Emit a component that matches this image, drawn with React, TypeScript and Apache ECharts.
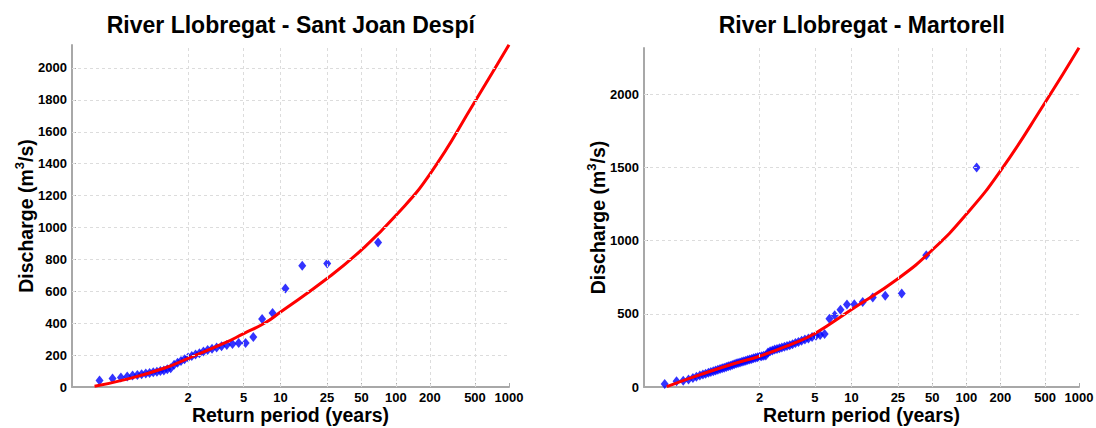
import React, { useEffect, useRef } from "react";
import * as echarts from "echarts";

// ---------- data ----------
const returnPeriodTicks = [2, 5, 10, 25, 50, 100, 200, 500, 1000];
const sjdDischargeTicks = [0, 200, 400, 600, 800, 1000, 1200, 1400, 1600, 1800, 2000];
const martDischargeTicks = [0, 500, 1000, 1500, 2000];

// Sant Joan Despí – observed annual maxima (return period in years, discharge m3/s)
const sjdObsT = [1.015, 1.041, 1.07, 1.1, 1.132, 1.166, 1.201, 1.24, 1.28, 1.323, 1.37, 1.419, 1.473, 1.531, 1.593, 1.66, 1.734, 1.814, 1.903, 2.0, 2.108, 2.228, 2.362, 2.514, 2.687, 2.885, 3.112, 3.381, 3.701, 4.088, 4.565, 5.175, 5.963, 7.036, 8.579, 10.989, 15.281, 25.077, 69.857];
const sjdObsQ = [40, 54, 60, 66, 72, 76, 80, 84, 88, 92, 96, 100, 104, 112, 118, 140, 152, 163, 174, 185, 194, 203, 212, 222, 232, 240, 248, 256, 263, 270, 276, 276, 313, 426, 464, 618, 760, 775, 906];
// Sant Joan Despí – fitted curve
const sjdFitT = [1.0095, 1.0885, 1.489, 2, 3.57, 5, 7.4, 10, 25, 50, 100, 200, 500, 1000];
const sjdFitQ = [5, 46, 119, 180, 276, 335, 401, 470, 680, 860, 1075, 1335, 1790, 2145];

// Martorell – observed annual maxima
const martObsT = [1.008, 1.023, 1.038, 1.054, 1.071, 1.087, 1.105, 1.123, 1.141, 1.161, 1.18, 1.201, 1.222, 1.244, 1.267, 1.291, 1.315, 1.341, 1.367, 1.395, 1.423, 1.453, 1.485, 1.517, 1.551, 1.587, 1.624, 1.663, 1.704, 1.747, 1.793, 1.84, 1.891, 1.944, 2.0, 2.06, 2.123, 2.19, 2.262, 2.338, 2.42, 2.508, 2.602, 2.704, 2.814, 2.934, 3.064, 3.206, 3.362, 3.534, 3.724, 3.936, 4.174, 4.442, 4.747, 5.097, 5.503, 5.979, 6.545, 7.23, 8.075, 9.143, 10.537, 12.432, 15.158, 19.416, 27.0, 44.308, 123.43];
const martObsQ = [20, 40, 42, 52, 62, 70, 78, 85, 91, 97, 103, 108, 113, 118, 123, 128, 132, 137, 141, 146, 150, 155, 160, 164, 168, 172, 176, 180, 184, 188, 192, 196, 199, 203, 206, 210, 213, 216, 235, 245, 250, 256, 260, 265, 270, 275, 280, 285, 292, 300, 308, 316, 324, 332, 342, 350, 355, 362, 466, 491, 528, 564, 566, 580, 612, 623, 639, 900, 1500];
// Martorell – fitted curve
const martFitT = [1.0098, 1.1078, 1.444, 2, 3.249, 5, 10, 25, 50, 100, 200, 500, 1000];
const martFitQ = [3, 84, 159, 210, 290, 366, 530, 740, 936, 1180, 1475, 1944, 2318];

const sjdMaxQ = 2144;
const martMaxQ = 2316;

// Gumbel reduced variate (probability-paper scale of the x axis)
const gumbel = (T: number) => -Math.log(-Math.log(1 - 1 / T));
const fromGumbel = (u: number) => 1 / (1 - Math.exp(-Math.exp(-u)));

const FONT = '"Liberation Sans", Arial, Helvetica, sans-serif';

export default function App() {
  const ref = useRef<HTMLDivElement>(null);

  useEffect(() => {
    if (!ref.current) return;
    const chart = echarts.init(ref.current, undefined, { renderer: "svg" });

    const xTickVals = returnPeriodTicks.map(gumbel);
    const xFormatter = (v: number) => {
      const T = fromGumbel(v);
      let best = returnPeriodTicks[0];
      let bd = Infinity;
      for (const t of returnPeriodTicks) {
        const d = Math.abs(Math.log(t / T));
        if (d < bd) {
          bd = d;
          best = t;
        }
      }
      return String(best);
    };

    const gridColor = "#dcdcdc";
    const axisLineStyle = { color: "#a8a8a8", width: 2 };
    const labelStyle = { fontSize: 13, fontWeight: "bold" as const, color: "#000", fontFamily: FONT };
    const nameStyle = { fontSize: 19.5, fontWeight: "bold" as const, color: "#000", fontFamily: FONT };

    const makeX = (gi: number) => ({
      type: "value",
      gridIndex: gi,
      min: -2,
      max: gumbel(1000),
      axisLine: { show: true, onZero: false, lineStyle: axisLineStyle },
      axisTick: { show: true, inside: true, length: 4, customValues: xTickVals, lineStyle: { color: "#a8a8a8", width: 1 } },
      axisLabel: { customValues: xTickVals, formatter: xFormatter, margin: 4, ...labelStyle },
      splitLine: { show: false },
      name: "Return period (years)",
      nameLocation: "middle",
      nameGap: 18,
      nameMoveOverlap: false,
      nameTextStyle: nameStyle,
    });

    const makeY = (gi: number, max: number, ticks: number[]) => ({
      type: "value",
      gridIndex: gi,
      min: 0,
      max,
      axisLine: { show: true, onZero: false, lineStyle: axisLineStyle },
      axisTick: { show: true, inside: true, length: 4, customValues: ticks, lineStyle: { color: "#a8a8a8", width: 1 } },
      axisLabel: { customValues: ticks, margin: 5, formatter: (v: number) => String(v), ...labelStyle },
      splitLine: { show: false },
      name: "Discharge (m{sup|3}/s)",
      nameLocation: "middle",
      nameRotate: 90,
      nameGap: 34,
      nameMoveOverlap: false,
      nameTextStyle: {
        ...nameStyle,
        rich: {
          sup: { fontSize: 13, fontWeight: "bold", color: "#000", fontFamily: FONT, padding: [0, 0, 12, 0] },
        },
      },
    });

    const obs = (T: number[], Q: number[]) => T.map((t, i) => [gumbel(t), Q[i]]);

    const gridLines = (yTicks: number[]) => ({
      silent: true,
      symbol: "none",
      animation: false,
      label: { show: false },
      emphasis: { disabled: true },
      lineStyle: { color: gridColor, type: [3, 3], width: 1 },
      data: [
        ...returnPeriodTicks.slice(0, -1).map((t) => ({ xAxis: gumbel(t) })),
        ...yTicks.slice(1).map((q) => ({ yAxis: q })),
      ],
    });

    const option: any = {
      animation: false,
      backgroundColor: "#fff",
      grid: [
        { left: 72, top: 45, width: 437, height: 342, outerBoundsMode: "none", containLabel: false },
        { left: 644, top: 48, width: 435, height: 339, outerBoundsMode: "none", containLabel: false },
      ],
      xAxis: [makeX(0), makeX(1)],
      yAxis: [makeY(0, sjdMaxQ, sjdDischargeTicks), makeY(1, martMaxQ, martDischargeTicks)],
      graphic: [
        {
          type: "text",
          x: 290.8,
          y: 25,
          style: {
            text: "River Llobregat - Sant Joan Despí",
            font: `bold 23px ${FONT}`,
            fill: "#000",
            textAlign: "center",
            textVerticalAlign: "middle",
            align: "center",
            verticalAlign: "middle",
          },
        },
        {
          type: "text",
          x: 861.8,
          y: 25,
          style: {
            text: "River Llobregat - Martorell",
            font: `bold 23px ${FONT}`,
            fill: "#000",
            textAlign: "center",
            textVerticalAlign: "middle",
            align: "center",
            verticalAlign: "middle",
          },
        },
      ],
      series: [
        {
          type: "line",
          xAxisIndex: 0,
          yAxisIndex: 0,
          data: [],
          z: 1,
          markLine: gridLines(sjdDischargeTicks),
        },
        {
          type: "line",
          xAxisIndex: 1,
          yAxisIndex: 1,
          data: [],
          z: 1,
          markLine: gridLines(martDischargeTicks),
        },
        {
          type: "scatter",
          xAxisIndex: 0,
          yAxisIndex: 0,
          data: obs(sjdObsT, sjdObsQ),
          symbol: "diamond",
          symbolSize: [8, 10],
          itemStyle: { color: "#0000ff" },
          z: 3,
        },
        {
          type: "line",
          xAxisIndex: 0,
          yAxisIndex: 0,
          data: obs(sjdFitT, sjdFitQ),
          smooth: 0.5,
          showSymbol: false,
          symbol: "none",
          lineStyle: { color: "#ff0000", width: 3 },
          z: 4,
        },
        {
          type: "scatter",
          xAxisIndex: 1,
          yAxisIndex: 1,
          data: obs(martObsT, martObsQ),
          symbol: "diamond",
          symbolSize: [8, 10],
          itemStyle: { color: "#0000ff" },
          z: 3,
        },
        {
          type: "line",
          xAxisIndex: 1,
          yAxisIndex: 1,
          data: obs(martFitT, martFitQ),
          smooth: 0.5,
          showSymbol: false,
          symbol: "none",
          lineStyle: { color: "#ff0000", width: 3 },
          z: 4,
        },
      ],
    };

    chart.setOption(option);
    return () => {
      chart.dispose();
    };
  }, []);

  return (
    <div
      ref={ref}
      style={{ position: "absolute", left: 0, top: 0, width: 1096, height: 428, background: "#fff" }}
    />
  );
}
